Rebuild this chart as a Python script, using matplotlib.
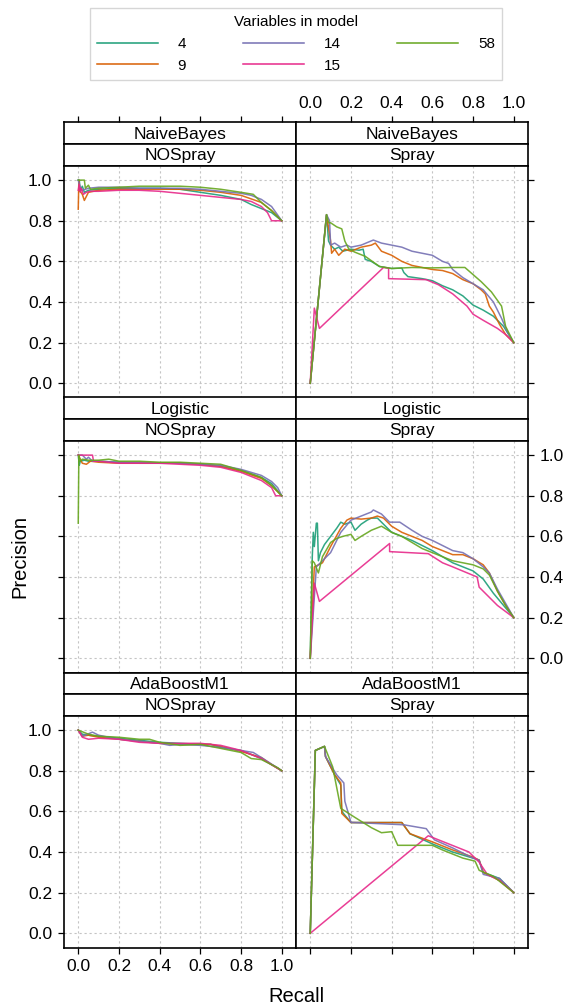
import matplotlib
matplotlib.use("Agg")
import matplotlib.pyplot as plt
from matplotlib.lines import Line2D

plt.rcParams['font.family'] = ['Liberation Sans', 'DejaVu Sans']

# --- data: recall / precision points per panel ---
variables = [4, 9, 14, 15, 58]
colours = {4: '#1B9E77', 9: '#D95F02', 14: '#7570B3', 15: '#E7298A', 58: '#66A61E'}
methods = ['NaiveBayes', 'Logistic', 'AdaBoostM1']
sprays = ['NOSpray', 'Spray']

nb_nospray = {
    4: ([0, 0.005, 0.01, 0.02, 0.03, 0.05, 0.1, 0.2, 0.3, 0.4, 0.5, 0.6, 0.7, 0.8, 0.85, 0.9, 0.95, 1.0],
        [1.0, 1.0, 0.95, 0.97, 0.94, 0.95, 0.955, 0.96, 0.96, 0.96, 0.955, 0.94, 0.925, 0.905, 0.88, 0.86, 0.84, 0.8]),
    9: ([0, 0.003, 0.006, 0.02, 0.03, 0.05, 0.1, 0.2, 0.3, 0.4, 0.5, 0.6, 0.7, 0.8, 0.9, 0.95, 1.0],
        [0.857, 1.0, 0.95, 0.93, 0.9, 0.94, 0.95, 0.955, 0.955, 0.955, 0.955, 0.95, 0.94, 0.925, 0.89, 0.85, 0.8]),
    14: ([0, 0.01, 0.02, 0.05, 0.1, 0.2, 0.3, 0.4, 0.5, 0.6, 0.7, 0.8, 0.85, 0.9, 0.95, 1.0],
         [1.0, 0.96, 0.95, 0.96, 0.965, 0.965, 0.96, 0.96, 0.96, 0.955, 0.945, 0.935, 0.925, 0.905, 0.87, 0.8]),
    15: ([0, 0.005, 0.01, 0.015, 0.025, 0.04, 0.06, 0.1, 0.2, 0.3, 0.4, 0.5, 0.6, 0.7, 0.8, 0.85, 0.9, 0.93, 0.95, 1.0],
         [0.95, 0.98, 0.94, 0.96, 0.93, 0.94, 0.945, 0.945, 0.95, 0.95, 0.945, 0.935, 0.925, 0.915, 0.905, 0.895, 0.87, 0.84, 0.8, 0.8]),
    58: ([0, 0.03, 0.035, 0.05, 0.06, 0.1, 0.2, 0.3, 0.4, 0.5, 0.6, 0.7, 0.8, 0.86, 0.9, 0.95, 1.0],
         [1.0, 1.0, 0.96, 0.975, 0.955, 0.96, 0.965, 0.97, 0.97, 0.97, 0.965, 0.955, 0.94, 0.93, 0.89, 0.85, 0.8]),
}

nb_spray = {
    4: ([0, 0.08, 0.09, 0.1, 0.12, 0.14, 0.16, 0.2, 0.24, 0.26, 0.27, 0.3, 0.34, 0.4, 0.45, 0.46, 0.48, 0.55, 0.6, 0.65, 0.7, 0.75, 0.8, 0.85, 0.9, 0.95, 1.0],
        [0, 0.83, 0.7, 0.68, 0.66, 0.67, 0.65, 0.66, 0.655, 0.66, 0.61, 0.6, 0.575, 0.565, 0.567, 0.545, 0.525, 0.515, 0.505, 0.48, 0.46, 0.43, 0.385, 0.36, 0.33, 0.28, 0.2]),
    9: ([0, 0.08, 0.1, 0.105, 0.12, 0.14, 0.17, 0.2, 0.25, 0.3, 0.32, 0.35, 0.4, 0.45, 0.5, 0.55, 0.6, 0.65, 0.7, 0.75, 0.8, 0.84, 0.86, 0.88, 0.9, 0.93, 0.96, 1.0],
        [0, 0.83, 0.7, 0.64, 0.66, 0.63, 0.66, 0.65, 0.67, 0.68, 0.69, 0.65, 0.63, 0.6, 0.58, 0.57, 0.56, 0.555, 0.54, 0.51, 0.49, 0.46, 0.44, 0.38, 0.35, 0.29, 0.24, 0.2]),
    14: ([0, 0.08, 0.095, 0.1, 0.12, 0.15, 0.18, 0.2, 0.25, 0.31, 0.35, 0.4, 0.45, 0.5, 0.55, 0.6, 0.65, 0.68, 0.7, 0.75, 0.8, 0.85, 0.9, 0.94, 0.97, 1.0],
         [0, 0.83, 0.8, 0.68, 0.69, 0.67, 0.68, 0.67, 0.68, 0.705, 0.69, 0.68, 0.67, 0.65, 0.64, 0.63, 0.6, 0.59, 0.56, 0.52, 0.49, 0.46, 0.4, 0.32, 0.25, 0.2]),
    15: ([0, 0.02, 0.045, 0.36, 0.385, 0.385, 0.57, 0.63, 0.7, 0.77, 0.8, 0.85, 0.92, 0.96, 1.0],
         [0, 0.37, 0.27, 0.57, 0.567, 0.515, 0.51, 0.485, 0.44, 0.38, 0.34, 0.31, 0.27, 0.24, 0.2]),
    58: ([0, 0.08, 0.09, 0.1, 0.13, 0.155, 0.17, 0.19, 0.22, 0.27, 0.34, 0.4, 0.5, 0.6, 0.7, 0.76, 0.8, 0.84, 0.89, 0.94, 0.96, 1.0],
         [0, 0.83, 0.79, 0.79, 0.77, 0.76, 0.7, 0.66, 0.645, 0.625, 0.575, 0.565, 0.57, 0.568, 0.57, 0.57, 0.535, 0.5, 0.45, 0.38, 0.28, 0.2]),
}

log_nospray = {
    4: ([0, 0.005, 0.01, 0.03, 0.05, 0.1, 0.2, 0.3, 0.4, 0.5, 0.6, 0.7, 0.8, 0.9, 0.95, 1.0],
        [1.0, 0.95, 0.97, 0.975, 0.97, 0.97, 0.965, 0.96, 0.96, 0.96, 0.955, 0.945, 0.925, 0.89, 0.86, 0.8]),
    9: ([0, 0.01, 0.02, 0.04, 0.06, 0.1, 0.2, 0.3, 0.4, 0.5, 0.6, 0.7, 0.8, 0.9, 0.95, 1.0],
        [1.0, 0.98, 0.96, 0.955, 0.97, 0.965, 0.96, 0.96, 0.96, 0.96, 0.955, 0.945, 0.92, 0.885, 0.85, 0.8]),
    14: ([0, 0.02, 0.04, 0.05, 0.07, 0.1, 0.2, 0.3, 0.4, 0.5, 0.6, 0.7, 0.8, 0.9, 0.95, 0.98, 1.0],
         [1.0, 1.0, 0.98, 0.99, 0.97, 0.97, 0.965, 0.965, 0.96, 0.96, 0.955, 0.95, 0.93, 0.9, 0.87, 0.84, 0.8]),
    15: ([0, 0.07, 0.075, 0.1, 0.2, 0.3, 0.4, 0.5, 0.6, 0.7, 0.8, 0.9, 0.95, 0.97, 1.0],
         [1.0, 1.0, 0.97, 0.97, 0.96, 0.96, 0.96, 0.955, 0.95, 0.94, 0.915, 0.875, 0.84, 0.8, 0.8]),
    58: ([0, 0.003, 0.01, 0.02, 0.05, 0.1, 0.15, 0.2, 0.3, 0.4, 0.5, 0.6, 0.7, 0.8, 0.9, 0.95, 1.0],
         [0.665, 1.0, 0.97, 0.98, 0.975, 0.975, 0.98, 0.97, 0.97, 0.965, 0.965, 0.96, 0.955, 0.925, 0.89, 0.85, 0.8]),
}

log_spray = {
    4: ([0, 0.01, 0.015, 0.02, 0.03, 0.035, 0.04, 0.05, 0.07, 0.1, 0.13, 0.15, 0.17, 0.2, 0.22, 0.25, 0.28, 0.3, 0.33, 0.36, 0.4, 0.45, 0.5, 0.55, 0.6, 0.65, 0.7, 0.75, 0.8, 0.85, 0.9, 0.95, 1.0],
        [0, 0.5, 0.62, 0.55, 0.665, 0.665, 0.48, 0.52, 0.56, 0.6, 0.64, 0.67, 0.66, 0.67, 0.63, 0.66, 0.68, 0.69, 0.69, 0.66, 0.62, 0.6, 0.58, 0.555, 0.53, 0.5, 0.47, 0.45, 0.43, 0.39, 0.32, 0.26, 0.2]),
    9: ([0, 0.02, 0.04, 0.06, 0.1, 0.15, 0.18, 0.2, 0.25, 0.3, 0.33, 0.36, 0.4, 0.45, 0.5, 0.55, 0.6, 0.65, 0.7, 0.75, 0.8, 0.85, 0.88, 0.92, 0.96, 1.0],
        [0, 0.45, 0.46, 0.47, 0.55, 0.64, 0.68, 0.69, 0.685, 0.69, 0.7, 0.69, 0.65, 0.62, 0.6, 0.58, 0.55, 0.53, 0.51, 0.51, 0.49, 0.46, 0.42, 0.33, 0.26, 0.2]),
    14: ([0, 0.03, 0.1, 0.15, 0.2, 0.25, 0.3, 0.31, 0.35, 0.39, 0.42, 0.44, 0.47, 0.5, 0.55, 0.6, 0.65, 0.7, 0.75, 0.8, 0.85, 0.88, 0.92, 0.96, 1.0],
         [0, 0.45, 0.52, 0.62, 0.68, 0.7, 0.72, 0.73, 0.71, 0.67, 0.67, 0.67, 0.65, 0.63, 0.6, 0.58, 0.555, 0.53, 0.52, 0.49, 0.45, 0.42, 0.34, 0.27, 0.2]),
    15: ([0, 0.02, 0.045, 0.39, 0.39, 0.58, 0.65, 0.7, 0.82, 0.83, 0.92, 1.0],
         [0, 0.37, 0.28, 0.565, 0.525, 0.515, 0.47, 0.45, 0.4, 0.35, 0.26, 0.2]),
    58: ([0, 0.01, 0.02, 0.04, 0.06, 0.1, 0.13, 0.16, 0.2, 0.22, 0.25, 0.3, 0.35, 0.4, 0.45, 0.5, 0.55, 0.6, 0.65, 0.7, 0.75, 0.8, 0.85, 0.88, 0.92, 0.96, 1.0],
         [0, 0.48, 0.47, 0.42, 0.5, 0.57, 0.59, 0.6, 0.61, 0.58, 0.6, 0.63, 0.65, 0.62, 0.6, 0.57, 0.54, 0.52, 0.5, 0.48, 0.47, 0.46, 0.44, 0.41, 0.33, 0.26, 0.2]),
}

ada_nospray = {
    4: ([0, 0.02, 0.05, 0.1, 0.2, 0.3, 0.4, 0.5, 0.6, 0.65, 0.7, 0.8, 0.85, 0.9, 0.95, 1.0],
        [1.0, 0.98, 0.975, 0.97, 0.96, 0.95, 0.94, 0.935, 0.93, 0.93, 0.915, 0.9, 0.88, 0.86, 0.83, 0.8]),
    9: ([0, 0.02, 0.05, 0.1, 0.2, 0.3, 0.4, 0.5, 0.6, 0.65, 0.7, 0.8, 0.9, 0.95, 1.0],
        [1.0, 0.97, 0.975, 0.965, 0.955, 0.945, 0.935, 0.93, 0.93, 0.93, 0.92, 0.895, 0.865, 0.83, 0.8]),
    14: ([0, 0.02, 0.07, 0.1, 0.2, 0.3, 0.4, 0.45, 0.5, 0.6, 0.7, 0.8, 0.86, 0.9, 0.97, 1.0],
         [1.0, 0.97, 0.99, 0.975, 0.955, 0.945, 0.935, 0.925, 0.93, 0.925, 0.915, 0.9, 0.89, 0.865, 0.82, 0.8]),
    15: ([0, 0.02, 0.05, 0.1, 0.2, 0.3, 0.4, 0.5, 0.6, 0.7, 0.8, 0.9, 1.0],
         [1.0, 0.965, 0.955, 0.96, 0.955, 0.94, 0.935, 0.935, 0.935, 0.925, 0.9, 0.86, 0.8]),
    58: ([0, 0.05, 0.1, 0.2, 0.3, 0.35, 0.4, 0.5, 0.6, 0.7, 0.8, 0.85, 0.9, 0.95, 0.98, 1.0],
         [1.0, 0.98, 0.97, 0.965, 0.955, 0.955, 0.94, 0.925, 0.93, 0.91, 0.89, 0.86, 0.855, 0.83, 0.815, 0.8]),
}

ada_spray = {
    4: ([0, 0.025, 0.07, 0.075, 0.12, 0.15, 0.155, 0.2, 0.45, 0.49, 0.6, 0.7, 0.8, 0.83, 0.85, 0.93, 1.0],
        [0, 0.9, 0.92, 0.87, 0.78, 0.73, 0.6, 0.545, 0.545, 0.49, 0.44, 0.4, 0.37, 0.36, 0.3, 0.27, 0.2]),
    9: ([0, 0.025, 0.07, 0.075, 0.12, 0.15, 0.155, 0.2, 0.45, 0.49, 0.6, 0.7, 0.8, 0.83, 0.85, 0.93, 1.0],
        [0, 0.9, 0.92, 0.87, 0.78, 0.74, 0.59, 0.545, 0.545, 0.49, 0.45, 0.41, 0.375, 0.36, 0.3, 0.26, 0.2]),
    14: ([0, 0.025, 0.07, 0.075, 0.13, 0.165, 0.17, 0.2, 0.46, 0.57, 0.61, 0.7, 0.8, 0.83, 0.85, 0.93, 1.0],
         [0, 0.9, 0.92, 0.87, 0.78, 0.74, 0.65, 0.546, 0.534, 0.515, 0.46, 0.42, 0.37, 0.36, 0.29, 0.27, 0.2]),
    15: ([0, 0.58, 0.78, 0.83, 0.87, 0.93, 1.0],
         [0, 0.48, 0.4, 0.35, 0.29, 0.26, 0.2]),
    58: ([0, 0.025, 0.07, 0.11, 0.15, 0.22, 0.3, 0.35, 0.4, 0.43, 0.6, 0.65, 0.75, 0.81, 0.83, 0.9, 1.0],
         [0, 0.9, 0.92, 0.82, 0.615, 0.57, 0.52, 0.495, 0.5, 0.433, 0.433, 0.41, 0.37, 0.355, 0.31, 0.28, 0.2]),
}

panels = [[nb_nospray, nb_spray], [log_nospray, log_spray], [ada_nospray, ada_spray]]
ticks = [0.0, 0.2, 0.4, 0.6, 0.8, 1.0]
tick_labels = ['0.0', '0.2', '0.4', '0.6', '0.8', '1.0']

# --- layout in pixels ---
W, H = 570, 1008
fig = plt.figure(figsize=(W / 100, H / 100), dpi=100)


def px_axes(x0, y0, w, h):
    return fig.add_axes([x0 / W, 1 - (y0 + h) / H, w / W, h / H])


col_x = [64, 296]
col_w = 232
row_y = [122.5, 397.5, 672.5]
strip_h = 21.7
panel_h = 231.6
lim = (-0.07, 1.07)
tick_kw = dict(direction='out', length=4.5, width=0.9, colors='black', labelsize=12.5, pad=4)

for r, method in enumerate(methods):
    for c, spray in enumerate(sprays):
        x0 = col_x[c]
        top = row_y[r]

        # strips
        for k, label in enumerate([method, spray]):
            sax = px_axes(x0, top + k * strip_h, col_w, strip_h)
            sax.set_xlim(lim)
            sax.set_ylim(0, 1)
            sax.set_yticks([])
            sax.text(0.5, 0.47, label, transform=sax.transAxes, ha='center', va='center', fontsize=12.5)
            for sp in sax.spines.values():
                sp.set_linewidth(1.2)
            if r == 0 and k == 0:
                sax.xaxis.tick_top()
                sax.set_xticks(ticks)
                sax.tick_params(axis='x', **tick_kw)
                if c == 1:
                    sax.set_xticklabels(tick_labels)
                else:
                    sax.set_xticklabels([])
            else:
                sax.set_xticks([])

        # panel
        ax = px_axes(x0, top + 2 * strip_h, col_w, panel_h)
        data = panels[r][c]
        for v in variables:
            xs, ys = data[v]
            ax.plot(xs, ys, color=colours[v], lw=1.1, alpha=0.9)
        ax.set_xlim(lim)
        ax.set_ylim(lim)
        ax.set_xticks(ticks)
        ax.set_yticks(ticks)
        ax.grid(True, color='#c4c4c4', lw=0.8, linestyle=(0, (2, 2.5)))
        ax.set_axisbelow(True)
        for sp in ax.spines.values():
            sp.set_linewidth(1.2)

        ax.tick_params(**tick_kw)
        if c == 0:
            ax.tick_params(axis='y', left=True, right=False, labelleft=(r != 1), labelright=False)
        else:
            ax.tick_params(axis='y', left=False, right=True, labelleft=False, labelright=(r == 1))
        if r == 2:
            ax.tick_params(axis='x', bottom=True, labelbottom=(c == 0))
        else:
            ax.tick_params(axis='x', bottom=False, labelbottom=False)
        ax.set_xticklabels(tick_labels)
        ax.set_yticklabels(tick_labels)

fig.text(0.035, 1 - 557 / H, 'Precision', rotation=90, ha='center', va='center', fontsize=14.5)
fig.text(296 / W, 1 - 996 / H, 'Recall', ha='center', va='center', fontsize=14.5)

handles = [Line2D([], [], color=colours[v], lw=1.1) for v in variables]
leg = fig.legend(handles, [str(v) for v in variables], ncol=3, title='Variables in model',
                 loc='center', bbox_to_anchor=(296 / W, 1 - 44 / H), frameon=True, fancybox=False,
                 edgecolor='#cccccc', fontsize=11, title_fontsize=11, handlelength=4,
                 handletextpad=1.3, columnspacing=3.7, labelspacing=0.5, borderpad=0.45)
leg.get_frame().set_linewidth(1.0)

fig.savefig('out.png', dpi=100)
